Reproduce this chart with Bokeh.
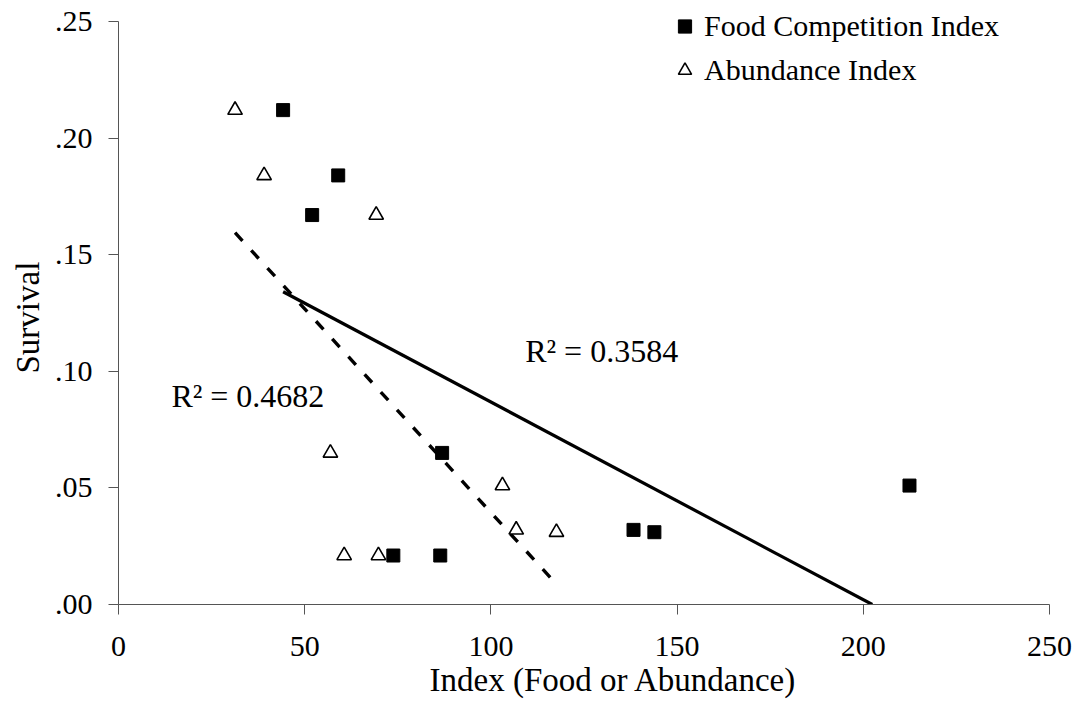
from bokeh.plotting import figure
from bokeh.models import Label, Legend, LegendItem, FixedTicker, Range1d, Title
from bokeh.embed import file_html
from bokeh.resources import INLINE
import numpy as np

# ---- data ----
survival = [0.212, 0.184, 0.167, 0.065, 0.051, 0.032, 0.031, 0.021, 0.021]
food_index = [44.2, 59.0, 52.0, 86.9, 212.4, 138.3, 143.9, 73.8, 86.4]
abundance_index = [31.3, 39.1, 69.2, 56.9, 103.1, 106.8, 117.6, 60.6, 69.8]

series_names = ["Food Competition Index", "Abundance Index"]
r2_labels = ["R\u00b2 = 0.3584", "R\u00b2 = 0.4682"]
x_title = "Index (Food or Abundance)"
y_title = "Survival"

x_ticks = [0, 50, 100, 150, 200, 250]
y_ticks = [0.0, 0.05, 0.10, 0.15, 0.20, 0.25]
y_tick_labels = [".00", ".05", ".10", ".15", ".20", ".25"]

FONT = "Liberation Serif"
Y_MAX = 0.25


def trend(x, y):
    m, b = np.polyfit(x, y, 1)
    x0, x1 = min(x), max(x)
    if m * x1 + b < 0:
        x1 = -b / m
    return [x0, x1], [m * x0 + b, m * x1 + b]


# frame spans the full top so the legend is not clipped; .25 sits 21px below top
FRAME_H = 604
p = figure(width=1080, height=702,
           x_range=Range1d(0, 250),
           y_range=Range1d(0, Y_MAX * FRAME_H / (FRAME_H - 21)),
           output_backend="svg", toolbar_location=None,
           min_border_left=118, min_border_right=31,
           min_border_top=0, min_border_bottom=702 - FRAME_H)
p.outline_line_color = None
p.xgrid.visible = False
p.ygrid.visible = False
p.background_fill_color = "white"
p.border_fill_color = "white"

# trend lines
fx, fy = trend(food_index, survival)
ax, ay = trend(abundance_index, survival)
p.line(fx, fy, line_color="black", line_width=3.2)
p.line(ax, ay, line_color="black", line_width=3.4, line_dash="11 13")

sq = p.scatter(food_index, survival, marker="square", size=13,
               fill_color="black", line_color="black", line_width=1)
tri = p.scatter(abundance_index, survival, marker="triangle", size=14.5,
                fill_color="white", line_color="black", line_width=1.6)

# axes
for axis in (p.xaxis[0], p.yaxis[0]):
    axis.axis_line_color = "#555555"
    axis.axis_line_width = 1
    axis.major_tick_line_color = "#555555"
    axis.major_tick_out = 10
    axis.major_tick_in = 0
    axis.minor_tick_line_color = None
    axis.major_label_text_font = FONT
    axis.major_label_text_font_size = "30px"
    axis.major_label_text_color = "black"

p.yaxis.bounds = (0, Y_MAX)
p.xaxis.ticker = FixedTicker(ticks=x_ticks)
p.yaxis.ticker = FixedTicker(ticks=y_ticks)
p.yaxis.major_label_overrides = dict(zip(y_ticks, y_tick_labels))
p.xaxis.major_label_standoff = 22
p.yaxis.major_label_standoff = 16

# axis titles, placed as in the reference
p.add_layout(Title(text=x_title, align="left", offset=311,
                   vertical_align="top",
                   text_font=FONT, text_font_size="33px",
                   text_font_style="normal", text_color="black",
                   standoff=6), "below")
p.add_layout(Title(text=y_title, align="left", offset=FRAME_H - 373,
                   vertical_align="bottom",
                   text_font=FONT, text_font_size="33px",
                   text_font_style="normal", text_color="black",
                   standoff=12), "left")

# R^2 labels
p.add_layout(Label(x=109.2, y=0.1088, text=r2_labels[0], text_font=FONT,
                   text_font_size="32px", text_color="black",
                   text_baseline="alphabetic", text_align="left"))
p.add_layout(Label(x=14.2, y=0.0895, text=r2_labels[1], text_font=FONT,
                   text_font_size="32px", text_color="black",
                   text_baseline="alphabetic", text_align="left"))

legend = Legend(items=[LegendItem(label=series_names[0], renderers=[sq]),
                       LegendItem(label=series_names[1], renderers=[tri])],
                location=(550, FRAME_H - 90))
legend.border_line_color = None
legend.background_fill_alpha = 0
legend.padding = 0
legend.margin = 0
legend.glyph_width = 33
legend.glyph_height = 40
legend.label_height = 40
legend.spacing = 4
legend.label_standoff = 3
legend.label_text_font = FONT
legend.label_text_font_size = "30px"
legend.label_text_color = "black"
p.add_layout(legend)

open("out.html", "w").write(file_html(p, INLINE))
